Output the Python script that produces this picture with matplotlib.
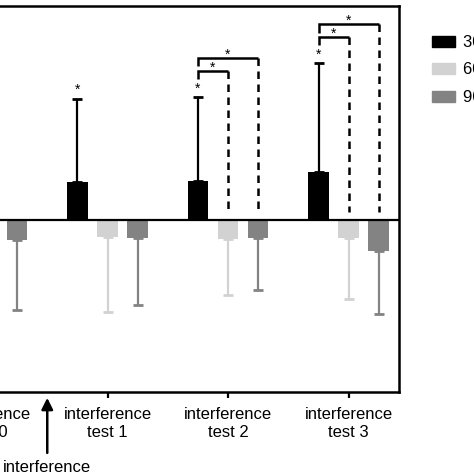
import numpy as np
import matplotlib
matplotlib.use("Agg")
import matplotlib.pyplot as plt

plt.rcParams['font.family'] = ['Liberation Sans', 'DejaVu Sans']

# groups along the x axis
groups = ['interference\ntest 0', 'interference\ntest 1', 'interference\ntest 2', 'interference\ntest 3']
series = ['30 min', '60 min', '90 min']
colors = ['#000000', '#d2d2d2', '#838383']

# mean values and one-sided errors per series (group order as above)
vals_30 = [0.0, 0.89, 0.91, 1.12]
err_30 = [0.0, 1.95, 1.96, 2.54]
vals_60 = [-0.40, -0.38, -0.43, -0.42]
err_60 = [1.60, 1.76, 1.30, 1.40]
vals_90 = [-0.46, -0.42, -0.42, -0.71]
err_90 = [1.62, 1.55, 1.20, 1.46]

# significance stars: single ones and bracket comparisons (group, series a, series b)
star_single = [1, 2, 3]
brackets = [(2, 0, 1), (2, 0, 2), (3, 0, 1), (3, 0, 2)]

W, H = 474, 474
fig = plt.figure(figsize=(W / 100, H / 100), dpi=100)
# axes deliberately extends past the left edge (the figure is a crop)
ax = fig.add_axes([-60 / W, 82 / H, 459 / W, 386 / H])

x = np.arange(len(groups))
off = 0.249
bw = 0.174
all_vals = [vals_30, vals_60, vals_90]
all_err = [err_30, err_60, err_90]
for i, (v, e, c) in enumerate(zip(all_vals, all_err, colors)):
    v = np.array(v)
    e = np.array(e)
    pos = x + (i - 1) * off
    ax.bar(pos, v, width=bw, color=c, zorder=2)
    lower = np.where(v < 0, e, 0)
    upper = np.where(v > 0, e, 0)
    mask = e > 0
    ax.errorbar(pos[mask], v[mask], yerr=[lower[mask], upper[mask]], fmt='none',
                ecolor=c, elinewidth=1.6, capsize=3.3, capthick=2, zorder=1)

ax.axhline(0, color='black', lw=1.6, zorder=3)

v30 = np.array(vals_30)
e30 = np.array(err_30)
for g in star_single:
    ax.text(x[g] - off, v30[g] + e30[g] + 0.2, '*', ha='center', va='center', fontsize=10)

step = 0.29
for g in sorted(set(b[0] for b in brackets)):
    base = v30[g] + e30[g] + 0.62
    k = 0
    for (bg, a, b) in brackets:
        if bg != g:
            continue
        yb = base + k * step
        xa = x[g] + (a - 1) * off
        xb = x[g] + (b - 1) * off
        ax.plot([xa, xa, xb], [yb - 0.19, yb, yb], color='black', lw=1.8,
                solid_capstyle='butt', solid_joinstyle='miter')
        ax.plot([xb, xb], [yb, 0.2], color='black', lw=1.8, ls=(0, (3, 2.2)))
        ax.text((xa + xb) / 2, yb + 0.08, '*', ha='center', va='center', fontsize=10)
        k += 1

ax.set_xlim(-0.39, 3.419)
ax.set_ylim(-4, 5)
ax.set_xticks(x)
ax.set_xticklabels(groups, fontsize=12, linespacing=1.2)
ax.tick_params(axis='x', length=4, width=1.6, pad=7)
ax.set_yticks([])
for s in ax.spines.values():
    s.set_linewidth(1.8)

# arrow marking the interference between groups 0 and 1
ax.annotate('', xy=(0.5, -0.008), xytext=(0.5, -0.165),
            xycoords=('data', 'axes fraction'), textcoords=('data', 'axes fraction'),
            arrowprops=dict(arrowstyle='-|>', mutation_scale=17, lw=1.8, color='black'),
            annotation_clip=False)
ax.text(0.5, -0.195, 'interference', transform=ax.get_xaxis_transform(),
        ha='center', va='center', fontsize=12)

handles = [plt.Rectangle((0, 0), 1, 1, color=c) for c in colors]
fig.legend(handles, series, loc='upper left', bbox_to_anchor=(432 / W, 1 - 35 / H),
           frameon=False, fontsize=12, borderpad=0, borderaxespad=0,
           handlelength=1.35, handleheight=0.65, handletextpad=0.5, labelspacing=0.75)

fig.savefig('out.png', dpi=100)
